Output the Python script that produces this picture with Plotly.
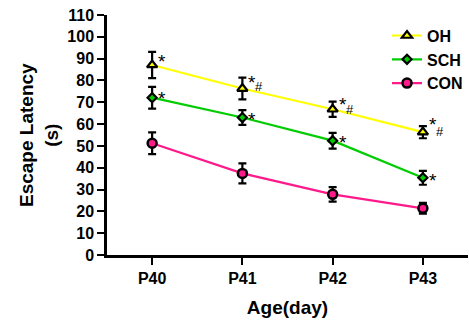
import plotly.graph_objects as go

days = ["P40", "P41", "P42", "P43"]
oh = [87.1, 76.3, 66.8, 56.3]
oh_err = [6.0, 5.0, 3.5, 2.8]
sch = [72.1, 63.0, 52.4, 35.4]
sch_err = [5.0, 3.4, 3.6, 3.2]
con = [51.2, 37.4, 27.8, 21.4]
con_err = [5.0, 4.6, 3.3, 2.5]

# significance marks per day
marks_oh = ["*", "*#", "*#", "*#"]
marks_sch = ["*", "*", "*", "*"]

xi = list(range(len(days)))
FONT = "Liberation Sans, Arial, sans-serif"

fig = go.Figure()

def add_series(name, vals, errs, color, symbol, msize, fill, lw):
    fig.add_trace(go.Scatter(
        x=xi, y=vals, name=name, mode="lines+markers",
        line=dict(color=color, width=2.2),
        marker=dict(symbol=symbol, size=msize, color=fill,
                    line=dict(color="black", width=lw)),
        error_y=dict(type="data", array=errs, visible=True,
                     color="black", thickness=2.2, width=4),
    ))

add_series("OH", oh, oh_err, "#ffff00", "triangle-up", 9, "#ffff00", 2.2)
add_series("SCH", sch, sch_err, "#00cc00", "diamond", 7, "#00cc00", 2.2)
add_series("CON", con, con_err, "#ff1a8c", "circle", 9, "#ff1a8c", 2.5)

ann = []
oh_star_up = [8, 11, 10, 13]
oh_hash_up = [0, 4, 2, 3]
sch_star_up = [5, 4, 4, 3]
for i in xi:
    ann.append(dict(x=i, y=oh[i], xref="x", yref="y", text="*", showarrow=False,
                    xshift=10, yshift=oh_star_up[i] - 5,
                    font=dict(family=FONT, size=19, color="black")))
    if "#" in marks_oh[i]:
        ann.append(dict(x=i, y=oh[i], xref="x", yref="y", text="#", showarrow=False,
                        xshift=17, yshift=oh_hash_up[i] - 2,
                        font=dict(family=FONT, size=13, color="black")))
    if "*" in marks_sch[i]:
        ann.append(dict(x=i, y=sch[i], xref="x", yref="y", text="*", showarrow=False,
                        xshift=10, yshift=sch_star_up[i] - 6,
                        font=dict(family=FONT, size=19, color="black")))

# y-axis title as a rotated annotation
ann.append(dict(x=0, y=0.5, xref="paper", yref="paper", xanchor="center",
                yanchor="middle", xshift=-68, textangle=-90, showarrow=False,
                text="Escape Latency<br>(s)",
                font=dict(family=FONT, size=19, color="black", weight="bold")))

fig.update_layout(
    width=469, height=320,
    margin=dict(l=107, r=1, t=15, b=65, autoexpand=False),
    plot_bgcolor="white", paper_bgcolor="white",
    font=dict(family=FONT, size=13, color="black"),
    showlegend=True,
    legend=dict(x=1.0, y=0.985, xanchor="right", yanchor="top",
                font=dict(family=FONT, size=16, color="black", weight="bold"),
                bgcolor="rgba(0,0,0,0)", itemwidth=30, tracegroupgap=0),
    annotations=ann,
    xaxis=dict(
        range=[-0.5, 3.5], tickmode="array", tickvals=xi, ticktext=days,
        showline=True, linecolor="black", linewidth=2.5, automargin=False,
        ticks="outside", ticklen=7, tickwidth=2, tickcolor="black",
        showgrid=False, zeroline=False,
        tickfont=dict(family=FONT, size=16, color="black", weight="bold"),
        title=dict(text="Age(day)", standoff=15,
                   font=dict(family=FONT, size=19, color="black", weight="bold")),
    ),
    yaxis=dict(
        range=[0, 110], tickmode="linear", tick0=0, dtick=10,
        showline=True, linecolor="black", linewidth=2.5, automargin=False,
        ticks="outside", ticklen=7, tickwidth=2, tickcolor="black",
        showgrid=False, zeroline=False,
        tickfont=dict(family=FONT, size=16, color="black", weight="bold"),
    ),
)

fig.write_html("out.html", config={"displayModeBar": False},
               post_script="document.body.style.margin='0';")
